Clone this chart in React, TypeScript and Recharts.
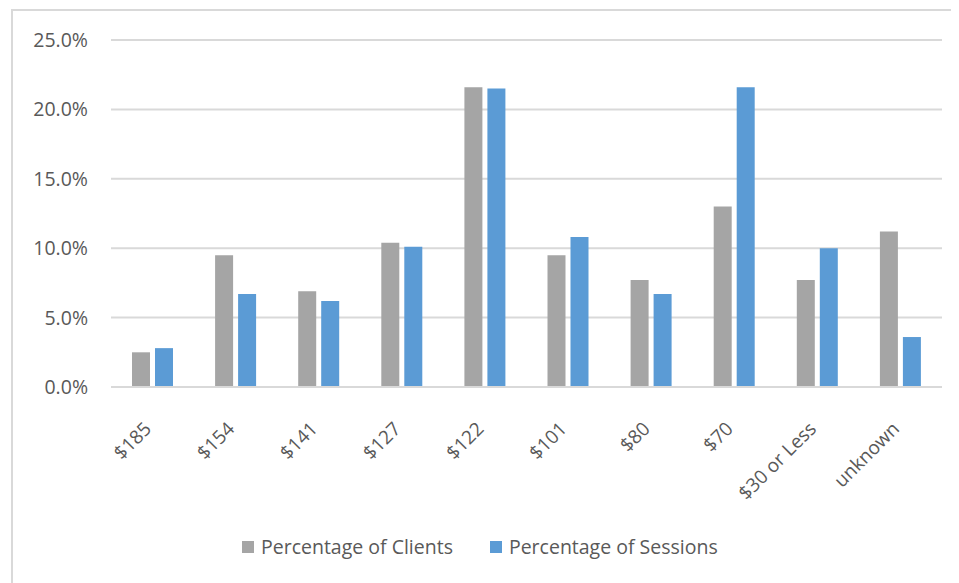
import React from "react";
import { BarChart, Bar, XAxis, YAxis, CartesianGrid, Legend } from "recharts";

const categories = ["$185", "$154", "$141", "$127", "$122", "$101", "$80", "$70", "$30 or Less", "unknown"];
const clients = [2.5, 9.5, 6.9, 10.4, 21.6, 9.5, 7.7, 13.0, 7.7, 11.2];
const sessions = [2.8, 6.7, 6.2, 10.1, 21.5, 10.8, 6.7, 21.6, 10.0, 3.6];
const yTicks = [0, 5, 10, 15, 20, 25];

const seriesNames = ["Percentage of Clients", "Percentage of Sessions"];
const colors = ["#A5A5A5", "#5B9BD5"];

const data = categories.map((c, i) => ({ name: c, clients: clients[i], sessions: sessions[i] }));

const FONT = "'Open Sans', sans-serif";
const TEXT = "#595959";

const XTick = (props: any) => {
  const { x, y, payload } = props;
  const ax = x;
  const ay = y + 43;
  return (
    <text x={ax} y={ay} transform={`rotate(-45, ${ax}, ${ay})`} textAnchor="end" fill={TEXT} fontSize={19} fontFamily={FONT}>
      {payload.value}
    </text>
  );
};

const LegendContent = () => (
  <div style={{ display: "flex", alignItems: "center", fontFamily: FONT, fontSize: 19.5, color: TEXT, lineHeight: "26px" }}>
    {seriesNames.map((n, i) => (
      <div key={n} style={{ display: "flex", alignItems: "center", marginRight: i === 0 ? 37 : 0 }}>
        <div style={{ width: 12, height: 12, background: colors[i], marginRight: 7 }} />
        <span>{n}</span>
      </div>
    ))}
  </div>
);

export default function App() {
  return (
    <div style={{ position: "relative", width: 951, height: 575 }}>
      <div
        style={{
          position: "absolute",
          left: 3,
          top: 1,
          width: 948,
          height: 574,
          borderLeft: "2px solid #d9d9d9",
          borderTop: "2px solid #d9d9d9",
          boxSizing: "border-box",
        }}
      />
      <div style={{ position: "absolute", left: 0, top: 0 }}>
        <BarChart
          width={951}
          height={575}
          data={data}
          margin={{ top: 32, right: 17, left: 0, bottom: 70 }}
          barSize={18}
          barGap={5}
        >
          <CartesianGrid vertical={false} stroke="#d9d9d9" strokeWidth={2} />
          <XAxis
            dataKey="name"
            height={100}
            interval={0}
            tickLine={false}
            axisLine={{ stroke: "#d9d9d9", strokeWidth: 2 }}
            tickSize={0}
            tickMargin={0}
            tick={<XTick />}
          />
          <YAxis
            width={103}
            domain={[0, 25]}
            ticks={yTicks}
            axisLine={false}
            tickLine={false}
            tickSize={0}
            tickMargin={23}
            tickFormatter={(v: number) => v.toFixed(1) + "%"}
            tick={{ fill: TEXT, fontSize: 19.5, fontFamily: FONT }}
          />
          <Legend
            content={<LegendContent />}
            wrapperStyle={{ position: "absolute", left: 234, top: 526, width: "auto" }}
          />
          <Bar dataKey="clients" name={seriesNames[0]} fill={colors[0]} isAnimationActive={false} />
          <Bar dataKey="sessions" name={seriesNames[1]} fill={colors[1]} isAnimationActive={false} />
        </BarChart>
      </div>
    </div>
  );
}
